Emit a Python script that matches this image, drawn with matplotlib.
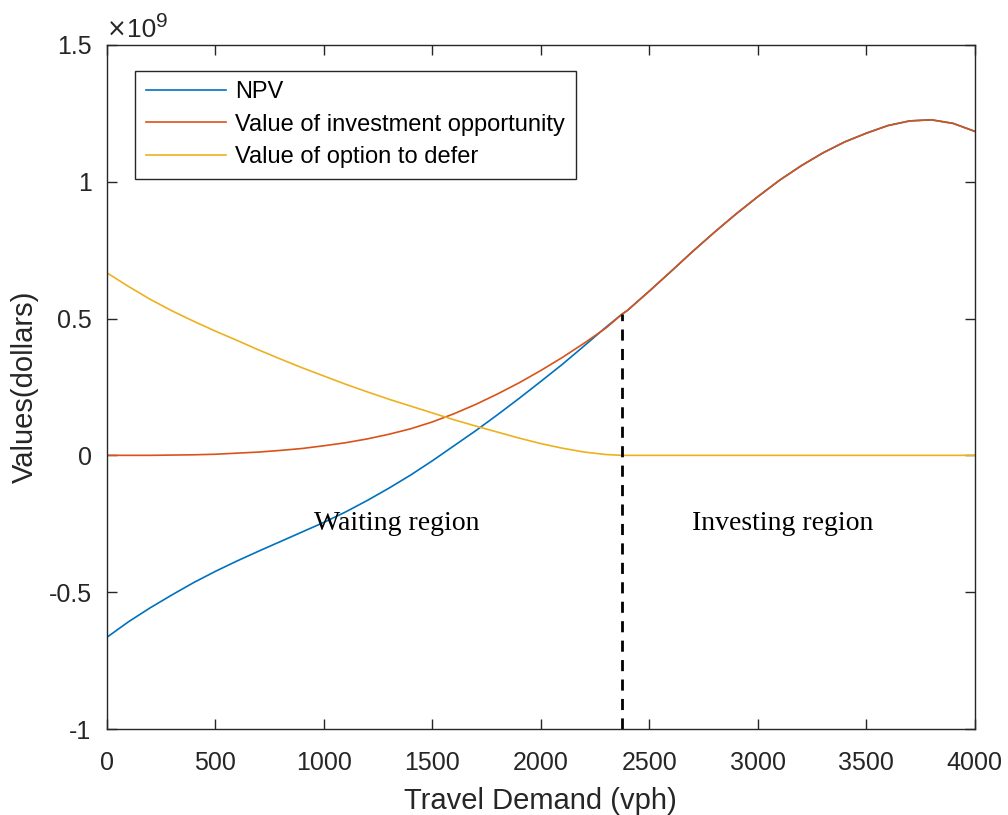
import matplotlib
matplotlib.use("Agg")
import matplotlib.pyplot as plt
from matplotlib.transforms import offset_copy

# Travel demand (vph)
demand = [0, 100, 200, 300, 400, 500, 600, 700, 800, 900, 1000, 1100, 1200, 1300,
          1400, 1500, 1600, 1700, 1800, 1900, 2000, 2100, 2200, 2300, 2373,
          2400, 2500, 2600, 2700, 2800, 2900, 3000, 3100, 3200, 3300, 3400, 3500,
          3600, 3700, 3800, 3900, 4000]
# values in units of 1e9 dollars
npv = [-0.665, -0.608, -0.557, -0.51, -0.465, -0.424, -0.386, -0.35, -0.315, -0.28,
       -0.245, -0.207, -0.165, -0.12, -0.072, -0.02, 0.035, 0.09, 0.148, 0.208,
       0.27, 0.333, 0.40, 0.468, 0.515,
       0.53, 0.60, 0.672, 0.745, 0.815, 0.882, 0.945, 1.005, 1.058, 1.105, 1.145,
       1.177, 1.205, 1.222, 1.226, 1.213, 1.184]
invest_value = [0.0, 0.0, 0.0, 0.001, 0.002, 0.004, 0.008, 0.012, 0.018, 0.025,
                0.035, 0.046, 0.06, 0.077, 0.097, 0.122, 0.152, 0.186, 0.224, 0.265,
                0.31, 0.358, 0.41, 0.465, 0.515,
                0.53, 0.60, 0.672, 0.745, 0.815, 0.882, 0.945, 1.005, 1.058, 1.105,
                1.145, 1.177, 1.205, 1.222, 1.226, 1.213, 1.184]
defer_value = [0.667, 0.617, 0.57, 0.528, 0.49, 0.454, 0.42, 0.385, 0.352, 0.32,
               0.29, 0.26, 0.232, 0.205, 0.18, 0.155, 0.13, 0.107, 0.085, 0.063,
               0.043, 0.026, 0.012, 0.003, 0.0,
               0.0, 0.0, 0.0, 0.0, 0.0, 0.0, 0.0, 0.0, 0.0, 0.0, 0.0, 0.0,
               0.0, 0.0, 0.0, 0.0, 0.0]
threshold = 2373
threshold_value = 0.515

series_labels = ["NPV", "Value of investment opportunity", "Value of option to defer"]
xticks = [0, 500, 1000, 1500, 2000, 2500, 3000, 3500, 4000]
yticks = [-1, -0.5, 0, 0.5, 1, 1.5]
ytick_labels = ["-1", "-0.5", "0", "0.5", "1", "1.5"]

plt.rcParams['font.family'] = ['Liberation Sans', 'DejaVu Sans']
fig = plt.figure(figsize=(10.08, 8.15), dpi=100)
ax = fig.add_axes([0.106, 0.1055, 0.861, 0.8395])

c_blue, c_red, c_yel = "#0072BD", "#D95319", "#EDB120"
ax.plot(demand, npv, color=c_blue, lw=1.2, label=series_labels[0])
ax.plot(demand, invest_value, color=c_red, lw=1.2, label=series_labels[1])
ax.plot(demand, defer_value, color=c_yel, lw=1.2, label=series_labels[2])
ax.plot([threshold, threshold], [-1, threshold_value], color="black", lw=2,
        ls=(0, (4, 3)))

ax.set_xlim(0, 4000)
ax.set_ylim(-1, 1.5)
ax.set_xticks(xticks)
ax.set_xticklabels([str(t) for t in xticks])
ax.set_yticks(yticks)
ax.set_yticklabels(ytick_labels)

axc = "#262626"
for s in ax.spines.values():
    s.set_color(axc)
    s.set_linewidth(1.0)
ax.tick_params(direction="in", top=True, right=True, length=7, width=1,
               colors=axc, labelsize=18)
ax.tick_params(axis="x", pad=15.5)
ax.tick_params(axis="y", pad=11)
for lab in ax.get_xticklabels() + ax.get_yticklabels():
    lab.set_color(axc)

ax.set_xlabel("Travel Demand (vph)", fontsize=21, color=axc)
ax.set_ylabel("Values(dollars)", fontsize=21, color=axc)
ax.xaxis.set_label_coords(0.5, -0.0848)
ax.yaxis.set_label_coords(-0.0783, 0.5)

# exponent label "x10^9"
base_y = 1.0117
ax.text(0.0, base_y, "\u00d7", transform=ax.transAxes, fontsize=17,
        family=['DejaVu Sans'], color=axc, ha="left", va="baseline")
tr10 = offset_copy(ax.transAxes, fig=fig, x=14.4, y=0, units="points")
ax.text(0.0, base_y, "10", transform=tr10, fontsize=19, color=axc,
        ha="left", va="baseline")
sup_tr = offset_copy(ax.transAxes, fig=fig, x=35.3, y=7.2, units="points")
ax.text(0.0, base_y, "9", transform=sup_tr, fontsize=15, color=axc,
        ha="left", va="baseline")

serif = ['Liberation Serif', 'DejaVu Serif']
ax.text(1336, -0.25, "Waiting region", fontsize=20, family=serif, ha="center",
        va="center", color="black")
ax.text(3115, -0.25, "Investing region", fontsize=20, family=serif, ha="center",
        va="center", color="black")

leg = ax.legend(loc="upper left", bbox_to_anchor=(0.0323, 0.9624), fontsize=17,
                frameon=True, fancybox=False, edgecolor=axc, framealpha=1,
                handlelength=3.4, handletextpad=0.4, borderpad=0.45,
                labelspacing=0.44, borderaxespad=0)
leg.get_frame().set_linewidth(1.0)

fig.savefig("out.png", dpi=100)
